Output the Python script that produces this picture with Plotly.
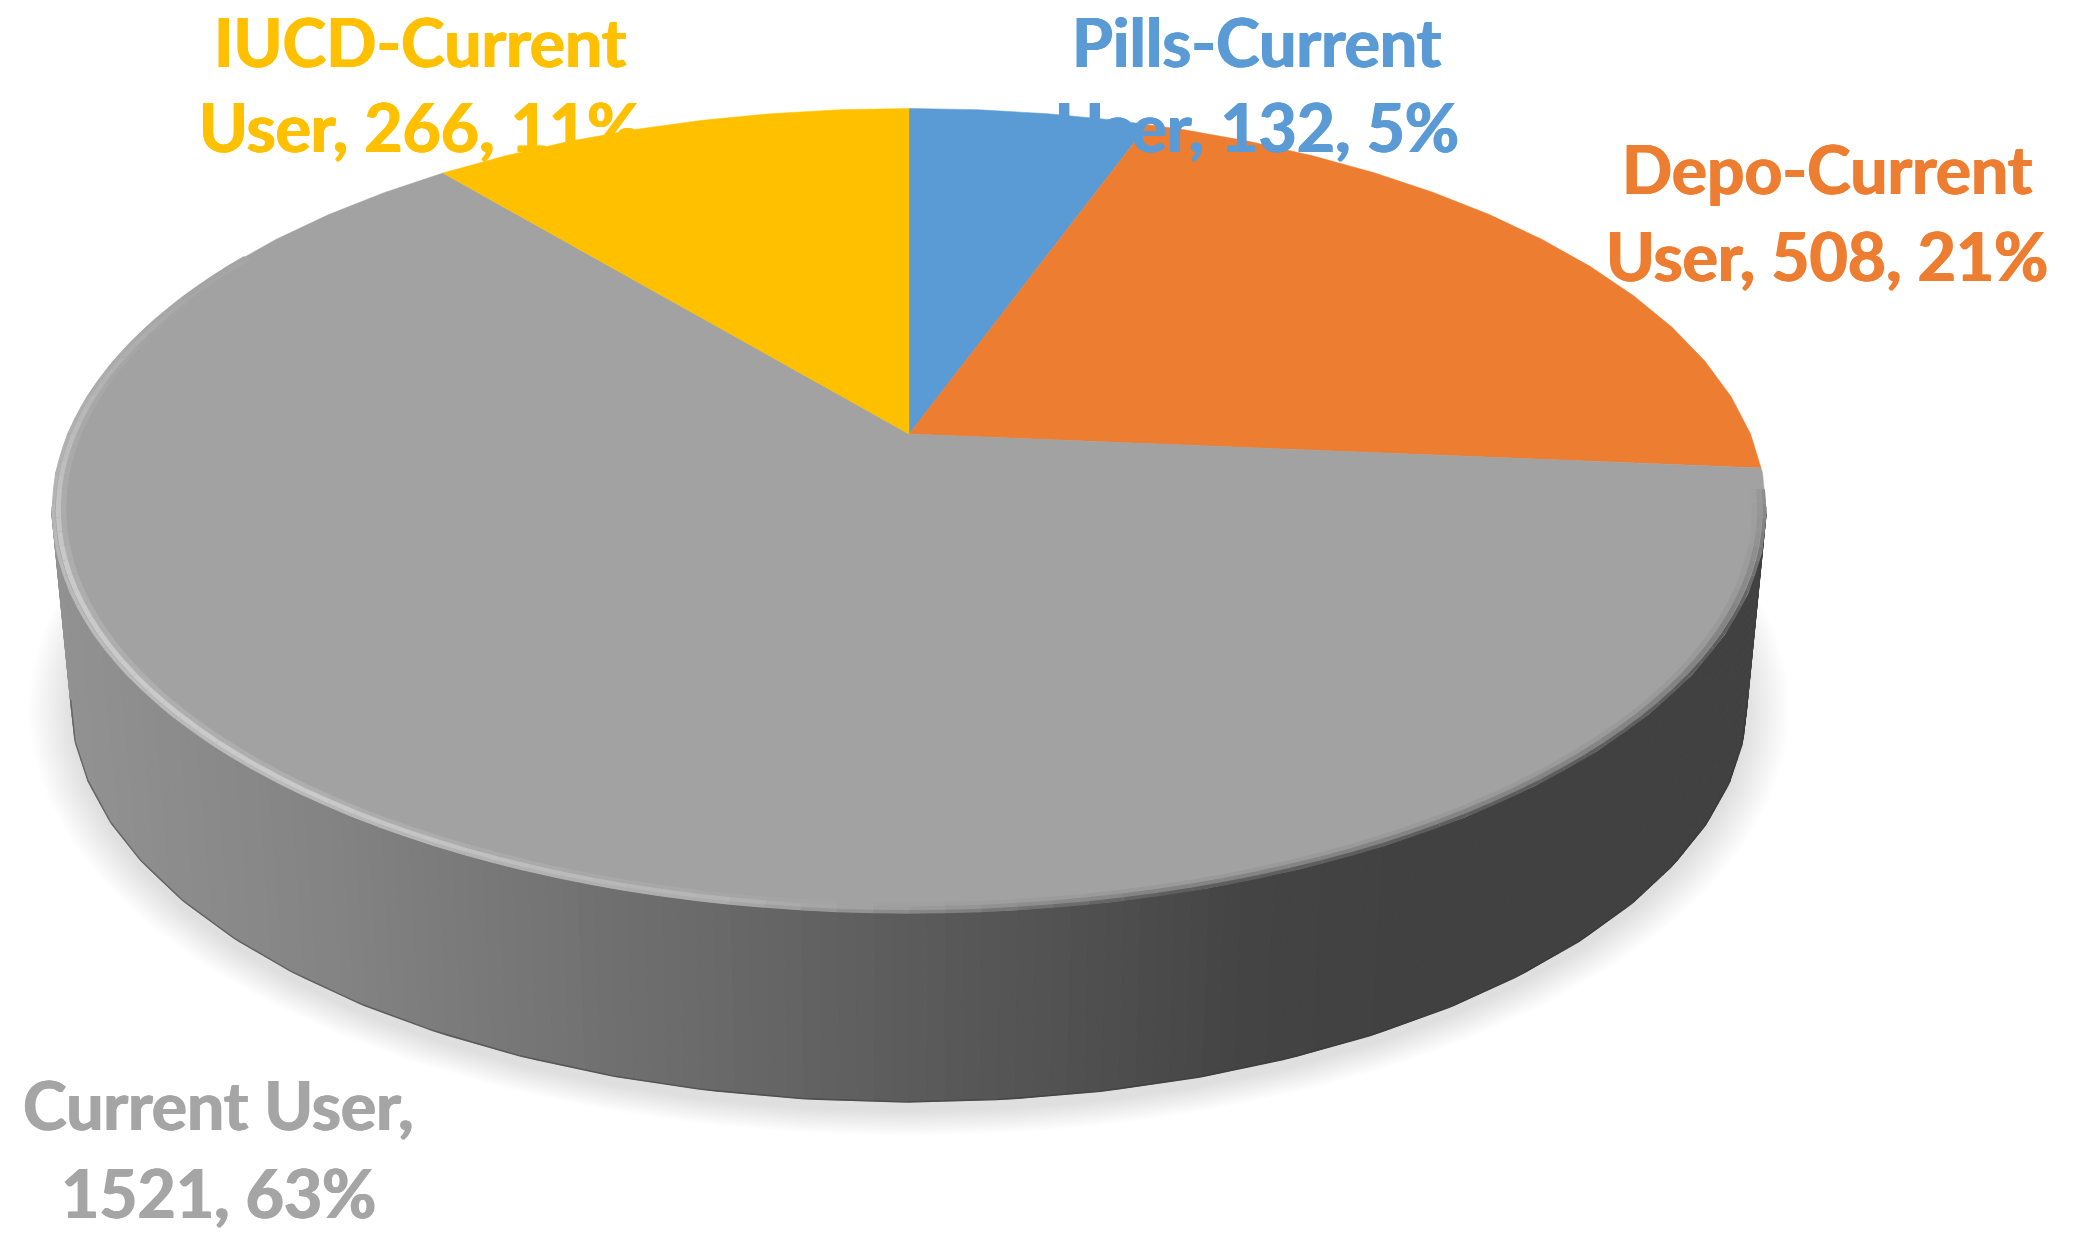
import math
import numpy as np
import plotly.graph_objects as go

names = ["Pills-Current User", "Depo-Current User", "Current User", "IUCD-Current User"]
values = [132, 508, 1521, 266]
percents = [5, 21, 63, 11]
colors = ["#5B9BD5", "#ED7D31", "#A2A2A2", "#FFC000"]
label_lines = [
    (f"Pills-Current", f"User, {values[0]}, {percents[0]}%"),
    (f"Depo-Current", f"User, {values[1]}, {percents[1]}%"),
    (f"Current User,", f"{values[2]}, {percents[2]}%"),
    (f"IUCD-Current", f"User, {values[3]}, {percents[3]}%"),
]
text_colors = ["#5B9BD5", "#ED7D31", "#A5A5A5", "#FFC000"]

W, H = 2075, 1240
CX, E, C, D, K = 909.0, 841.6, 434.0, -304.9, 0.1908
DROP, SHRINK = 189.0, 0.978
FONT = "Lato"
FSIZE = 66
LABEL_POS = [(1257, 66, 151), (1827, 193, 280), (218, 1129, 1217), (420, 66, 151)]
BASE_SHIFT = 25
RIM_SEGMENTS = 64


def top_smooth(th, r=1.0):
    th = np.asarray(th, dtype=float)
    den = 1 + K * r * np.cos(th)
    return CX + E * r * np.sin(th) / den, (C + D * r * np.cos(th)) / den


_grid = np.linspace(0, 2 * math.pi, RIM_SEGMENTS + 1)
_gx, _gy = top_smooth(_grid)


def top(th):
    """Rim as a faceted polygon, as the source's 3D mesh draws it."""
    th = np.mod(np.asarray(th, dtype=float), 2 * math.pi)
    return np.interp(th, _grid, _gx), np.interp(th, _grid, _gy)


def low(th):
    x, y = top(th)
    return CX + (x - CX) * SHRINK, y + DROP


def mix(stops, x):
    xs = [s[0] for s in stops]
    ys = [s[1] for s in stops]
    g = int(round(np.interp(x, xs, ys)))
    return f"rgb({g},{g},{g})"


fig = go.Figure()

# soft ground shadow: nested ellipses
lx, ly = low(np.linspace(0, 2 * math.pi, 241))
sy0 = 700.0
for i in range(16):
    t = 1 - i / 15
    ax = 1 + 42 * t / 839
    ay = 1 + 24 * t / 402
    fig.add_trace(go.Scatter(
        x=CX + (lx - CX) * ax, y=sy0 + (ly - sy0) * ay + 10, mode="lines",
        line=dict(width=0), fill="toself", fillcolor="rgba(0,0,0,0.0085)",
        hoverinfo="skip", showlegend=False))

# side wall strips, shaded left to right
th_r = math.pi / 2 + math.asin(K)
ths = np.linspace(th_r - 0.01, 2 * math.pi - th_r + 0.01, 161)
side_stops = [(50, 146), (300, 133), (500, 119), (700, 106), (900, 92), (1100, 79), (1250, 68), (1400, 65), (2075, 65)]
for a, b in zip(ths[:-1], ths[1:]):
    tx, ty = top([a, b])
    bx, by = low([b, a])
    col = mix(side_stops, (tx[0] + tx[1]) / 2)
    fig.add_trace(go.Scatter(
        x=list(tx) + list(bx) + [tx[0]], y=list(ty) + list(by) + [ty[0]], mode="lines",
        line=dict(width=1, color=col), fill="toself", fillcolor=col,
        hoverinfo="skip", showlegend=False))

# darker hairline on the lower edge of the wall
bth = np.linspace(th_r, 2 * math.pi - th_r, 300)
bx, by = low(bth)
fig.add_trace(go.Scatter(x=bx, y=by, mode="lines", line=dict(width=1.5, color="rgba(50,50,50,0.45)"),
                         hoverinfo="skip", showlegend=False))

# top face wedges, from the values
total = sum(values)
start = 0.0
for name, v, col in zip(names, values, colors):
    end = start + v / total * 2 * math.pi
    inner = [g for g in _grid if start < g < end]
    th = [start] + inner + [end]
    x, y = top(np.array(th) - 1e-9)
    fig.add_trace(go.Scatter(
        x=[CX] + list(x) + [CX], y=[C] + list(y) + [C], mode="lines",
        line=dict(width=0.5, color=col), fill="toself", fillcolor=col,
        name=name, hoverinfo="name", showlegend=False))
    start = end

# bevel along the front rim, widest band first so no gaps show
deg = np.arange(98, 300, 2.0)
h = np.interp(deg, [170, 215, 250, 275, 292], [0, 1, 1, 0.5, 0.1])
d = np.interp(deg, [98, 115, 165, 190], [0.3, 1, 1, 0])
bands = [
    (0.9870, 6, 174, 154),
    (0.9925, 5, 202, 132),
    (0.9978, 3.5, 186, 95),
]
for r, width, hi, lo in bands:
    groups = {}
    for dg, hv, dv in zip(deg, h, d):
        g = int(round(162 + hv * (hi - 162) - dv * (162 - lo)))
        g = g - g % 2
        a = np.radians([dg, dg + 2])
        x, y = top_smooth(a, r)
        gx, gy = groups.setdefault(g, ([], []))
        gx += [x[0], x[1], None]
        gy += [y[0], y[1], None]
    for g, (gx, gy) in groups.items():
        fig.add_trace(go.Scatter(x=gx, y=gy, mode="lines",
                                 line=dict(width=width, color=f"rgb({g},{g},{g})"),
                                 hoverinfo="skip", showlegend=False))

# labels
for (l1, l2), (xc, b1, b2), col in zip(label_lines, LABEL_POS, text_colors):
    for txt, b in ((l1, b1), (l2, b2)):
        fig.add_annotation(x=xc, y=b - BASE_SHIFT, text=txt, showarrow=False,
                           xanchor="center", yanchor="middle",
                           font=dict(family=FONT, size=FSIZE, color=col, weight="bold",
                                     shadow=f"0.8px 0 0 {col}, -0.8px 0 0 {col}"))

fig.update_xaxes(range=[0, W], visible=False, fixedrange=True)
fig.update_yaxes(range=[H, 0], visible=False, fixedrange=True)
fig.update_layout(width=W, height=H, margin=dict(l=0, r=0, t=0, b=0),
                  paper_bgcolor="white", plot_bgcolor="white", showlegend=False)
fig.write_html("out.html", post_script="document.body.style.margin='0';document.body.style.overflow='hidden';",
               config={"displayModeBar": False})
